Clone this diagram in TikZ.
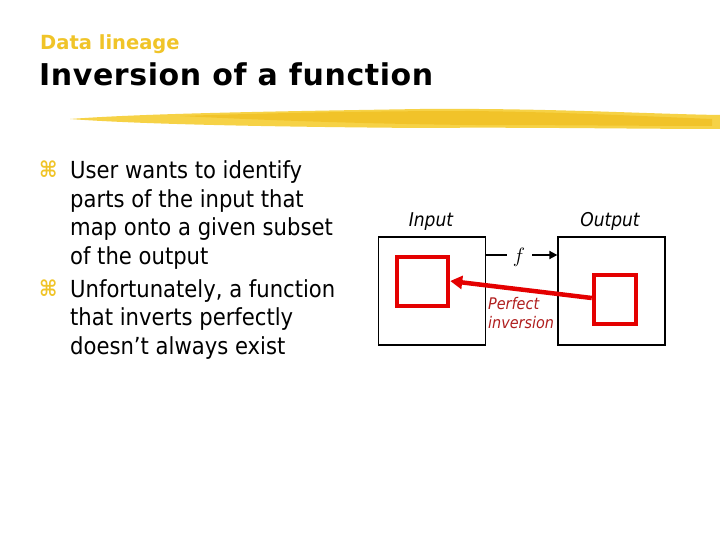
\documentclass[tikz,border=0pt]{standalone}
\usepackage{fontspec}
\setmainfont{DejaVu Sans}
\newfontfamily\bodyfont{DejaVu Sans Condensed}
\newfontfamily\headfont{DejaVu Sans}[LetterSpace=2]
\newfontfamily\subfont{DejaVu Sans}
\usetikzlibrary{arrows.meta}
\definecolor{slideyellow}{RGB}{240,196,40}
\definecolor{brushA}{RGB}{246,210,70}
\definecolor{brushB}{RGB}{240,190,30}
\definecolor{boxred}{RGB}{228,0,0}
\definecolor{textred}{RGB}{176,30,30}
\tikzset{
  bodyline/.style={anchor=base west,inner sep=0pt,font=\bodyfont\fontsize{23.5}{28}\selectfont},
  bulletmark/.style={anchor=base west,inner sep=0pt,text=slideyellow,font=\bodyfont\bfseries\fontsize{22}{24}\selectfont},
  bigbox/.style={draw=black,line width=1.3pt,minimum width=107pt,minimum height=108pt,inner sep=0pt},
  redbox/.style={draw=boxred,line width=4.5pt,inner sep=0pt},
  lbl/.style={inner sep=0pt,font=\bodyfont\itshape\fontsize{19}{22}\selectfont},
}
\begin{document}
\begin{tikzpicture}[x=1pt,y=-1pt]
\useasboundingbox[fill=white] (0,0) rectangle (720,540);
% headings
\node[anchor=base west,inner sep=0pt,text=slideyellow,font=\subfont\bfseries\fontsize{19.5}{22}\selectfont] (sub) at (40,50) {Data lineage};
\node[anchor=base west,inner sep=0pt,font=\headfont\bfseries\fontsize{30}{34}\selectfont] (title) at (39,86) {Inversion of a function};
% brush stroke
\fill[brushA] (70,119) .. controls (150,113) and (300,111) .. (420,109)
  .. controls (550,108) and (650,114) .. (720,115) -- (720,129)
  .. controls (640,129) and (520,127) .. (420,128)
  .. controls (300,127) and (150,125) .. (70,119) -- cycle;
\fill[brushB,opacity=0.7] (180,116) .. controls (300,112) and (400,111) .. (470,111)
  .. controls (560,112) and (640,116) .. (712,119) -- (712,126)
  .. controls (640,126) and (560,125) .. (470,125)
  .. controls (380,124) and (280,121) .. (180,116) -- cycle;
% bullets
\node[bulletmark] (b1) at (39,178) {⌘};
\node[bodyline] (l1) at (70,179) {User wants to identify};
\node[bodyline] (l2) at (70,207.5) {parts of the input that};
\node[bodyline] (l3) at (70,236) {map onto a given subset};
\node[bodyline] (l4) at (70,264.5) {of the output};
\node[bulletmark] (b2) at (39,296) {⌘};
\node[bodyline] (l5) at (70,297) {Unfortunately, a function};
\node[bodyline] (l6) at (70,325.5) {that inverts perfectly};
\node[bodyline] (l7) at (70,354) {doesn’t always exist};
% diagram
\node[bigbox] (in) at (432,291) {};
\node[bigbox] (out) at (611.5,291) {};
\node[redbox,minimum width=51pt,minimum height=49pt] (rin) at (422.5,281.5) {};
\node[redbox,minimum width=42pt,minimum height=49pt] (rout) at (615,299.5) {};
\node[lbl,anchor=base] (inlbl) at (431,226) {Input};
\node[lbl,anchor=base] (outlbl) at (610,226) {Output};
\node[inner sep=0pt,font=\fontsize{20}{22}\selectfont] (f) at (519,257) {$f$};
\coordinate (fa) at (in.east |- 0,255);
\coordinate (fb) at (out.west |- 0,255);
\draw[line width=1.8pt] (fa) -- (507,255);
\draw[line width=1.8pt,-{Triangle[length=8pt,width=8pt]}] (532,255) -- (fb);
\draw[boxred,line width=4.5pt,-{Triangle[length=12pt,width=13pt]}] (rout.west |- 0,298) -- (rin.east |- 0,281);
\node[lbl,text=textred,anchor=base west,font=\bodyfont\itshape\fontsize{16}{18}\selectfont] (p1) at (488,309) {Perfect};
\node[lbl,text=textred,anchor=base west,font=\bodyfont\itshape\fontsize{16}{18}\selectfont] (p2) at (488,328) {inversion};
\end{tikzpicture}
\end{document}
